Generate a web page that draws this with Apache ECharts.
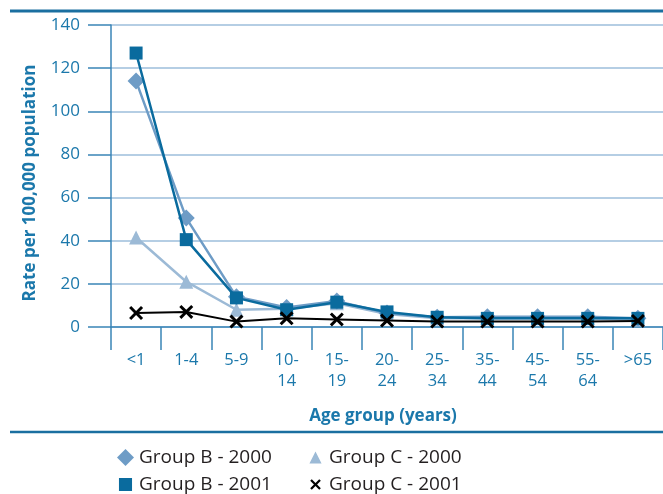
<!DOCTYPE html>
<html>
<head>
<meta charset="utf-8">
<script src="https://cdn.jsdelivr.net/npm/echarts@6/dist/echarts.min.js"></script>
<style>html,body{margin:0;padding:0;background:#fff}#c{width:663px;height:494px}</style>
</head>
<body>
<div id="c"></div>
<script>
const categories = ['<1','1-4','5-9','10-\n14','15-\n19','20-\n24','25-\n34','35-\n44','45-\n54','55-\n64','>65'];
const groupB2000 = [114, 50.5, 14, 9, 12, 6.5, 4.5, 4.8, 4.8, 4.8, 4];
const groupB2001 = [127, 40.5, 13.5, 8, 11.5, 7, 4.5, 4, 4, 4, 4];
const groupC2000 = [41.5, 21, 8, 8.5, 11, 6, 4, 4, 4, 4, 3.5];
const groupC2001 = [6.5, 7, 2.5, 4, 3.5, 3, 2.5, 2.5, 2.5, 2.5, 2.8];
const yTicks = {min: 0, max: 140, interval: 20};

const FONT = 'Open Sans';
const AXIS_BLUE = '#3a85b7';
const TEXT_BLUE = '#1b78ab';
const X_PATH = 'path://M0,3 L3,0 L10,7 L17,0 L20,3 L13,10 L20,17 L17,20 L10,13 L3,20 L0,17 L7,10 Z';
// legend icons padded inside their box so they draw smaller than the diamond
const X_ICON = 'path://M-6,-6 L-6,-5.9 L-5.9,-6 Z M26,26 L26,25.9 L25.9,26 Z M0,3 L3,0 L10,7 L17,0 L20,3 L13,10 L20,17 L17,20 L10,13 L3,20 L0,17 L7,10 Z';
const RECT_ICON = 'path://M-3,-3 L-3,-2.9 L-2.9,-3 Z M23,23 L23,22.9 L22.9,23 Z M0,0 L20,0 L20,20 L0,20 Z';
const TRI_ICON = 'path://M-4,-4 L-4,-3.9 L-3.9,-4 Z M24,24 L24,23.9 L23.9,24 Z M10,0 L20,20 L0,20 Z';

const chart = echarts.init(document.getElementById('c'), null, {renderer: 'canvas'});
chart.setOption({
  animation: false,
  backgroundColor: '#fff',
  grid: {left: 111, right: -9, top: 25, bottom: 167, containLabel: false},
  xAxis: {
    type: 'category',
    data: categories,
    boundaryGap: true,
    name: 'Age group (years)',
    nameLocation: 'middle',
    nameGap: 81,
    nameTextStyle: {fontFamily: FONT, fontSize: 17, fontWeight: 'bold', color: TEXT_BLUE, padding: [0, 8, 0, 0]},
    axisLine: {show: true, lineStyle: {color: AXIS_BLUE, width: 1.5}},
    axisTick: {show: true, length: 23, inside: false, lineStyle: {color: AXIS_BLUE, width: 1.5}},
    axisLabel: {fontFamily: FONT, fontSize: 16.5, color: TEXT_BLUE, margin: 23, lineHeight: 21, interval: 0}
  },
  yAxis: {
    type: 'value',
    min: yTicks.min, max: yTicks.max, interval: yTicks.interval,
    name: 'Rate per 100,000 population',
    nameLocation: 'middle',
    nameGap: 72,
    nameTextStyle: {fontFamily: FONT, fontSize: 17, fontWeight: 'bold', color: TEXT_BLUE, padding: [0, 14, 0, 0]},
    axisLine: {show: true, lineStyle: {color: AXIS_BLUE, width: 1.5}},
    axisTick: {show: true, length: 23, inside: false, lineStyle: {color: AXIS_BLUE, width: 1.5}},
    axisLabel: {fontFamily: FONT, fontSize: 17, color: TEXT_BLUE, margin: 31},
    splitLine: {show: true, lineStyle: {color: '#9dbedb', width: 1.5}}
  },
  legend: [
    {
      orient: 'vertical', left: 112, top: 443, height: 90, itemGap: 8, itemWidth: 17, itemHeight: 17,
      textStyle: {fontFamily: FONT, fontSize: 19, color: '#231f20'},
      data: [
        {name: 'Group B - 2000', icon: 'diamond'},
        {name: 'Group B - 2001', icon: RECT_ICON}
      ]
    },
    {
      orient: 'vertical', left: 302, top: 443, height: 90, itemGap: 8, itemWidth: 17, itemHeight: 17,
      textStyle: {fontFamily: FONT, fontSize: 19, color: '#231f20'},
      data: [
        {name: 'Group C - 2000', icon: TRI_ICON},
        {name: 'Group C - 2001', icon: X_ICON}
      ]
    }
  ],
  graphic: [
    {type: 'line', shape: {x1: 10, y1: 11, x2: 663, y2: 11}, style: {stroke: '#1a6fa0', lineWidth: 3}},
    {type: 'line', shape: {x1: 10, y1: 432, x2: 663, y2: 432}, style: {stroke: '#1a6fa0', lineWidth: 2.5}}
  ],
  series: [
    {
      name: 'Group C - 2000', type: 'line', data: groupC2000, z: 2,
      symbol: 'triangle', symbolSize: 14, color: '#9cbad6',
      lineStyle: {color: '#9cbad6', width: 2.5}, itemStyle: {color: '#9cbad6'}
    },
    {
      name: 'Group B - 2000', type: 'line', data: groupB2000, z: 3,
      symbol: 'diamond', symbolSize: 17, color: '#6e9cc6',
      lineStyle: {color: '#6e9cc6', width: 2.5}, itemStyle: {color: '#6e9cc6'}
    },
    {
      name: 'Group B - 2001', type: 'line', data: groupB2001, z: 4,
      symbol: 'rect', symbolSize: 13, color: '#0a6b9e',
      lineStyle: {color: '#0a6b9e', width: 2.5}, itemStyle: {color: '#0a6b9e'}
    },
    {
      name: 'Group C - 2001', type: 'line', data: groupC2001, z: 5,
      symbol: X_PATH, symbolSize: 14, color: '#000',
      lineStyle: {color: '#000', width: 2}, itemStyle: {color: '#000'}
    }
  ]
});
</script>
</body>
</html>
